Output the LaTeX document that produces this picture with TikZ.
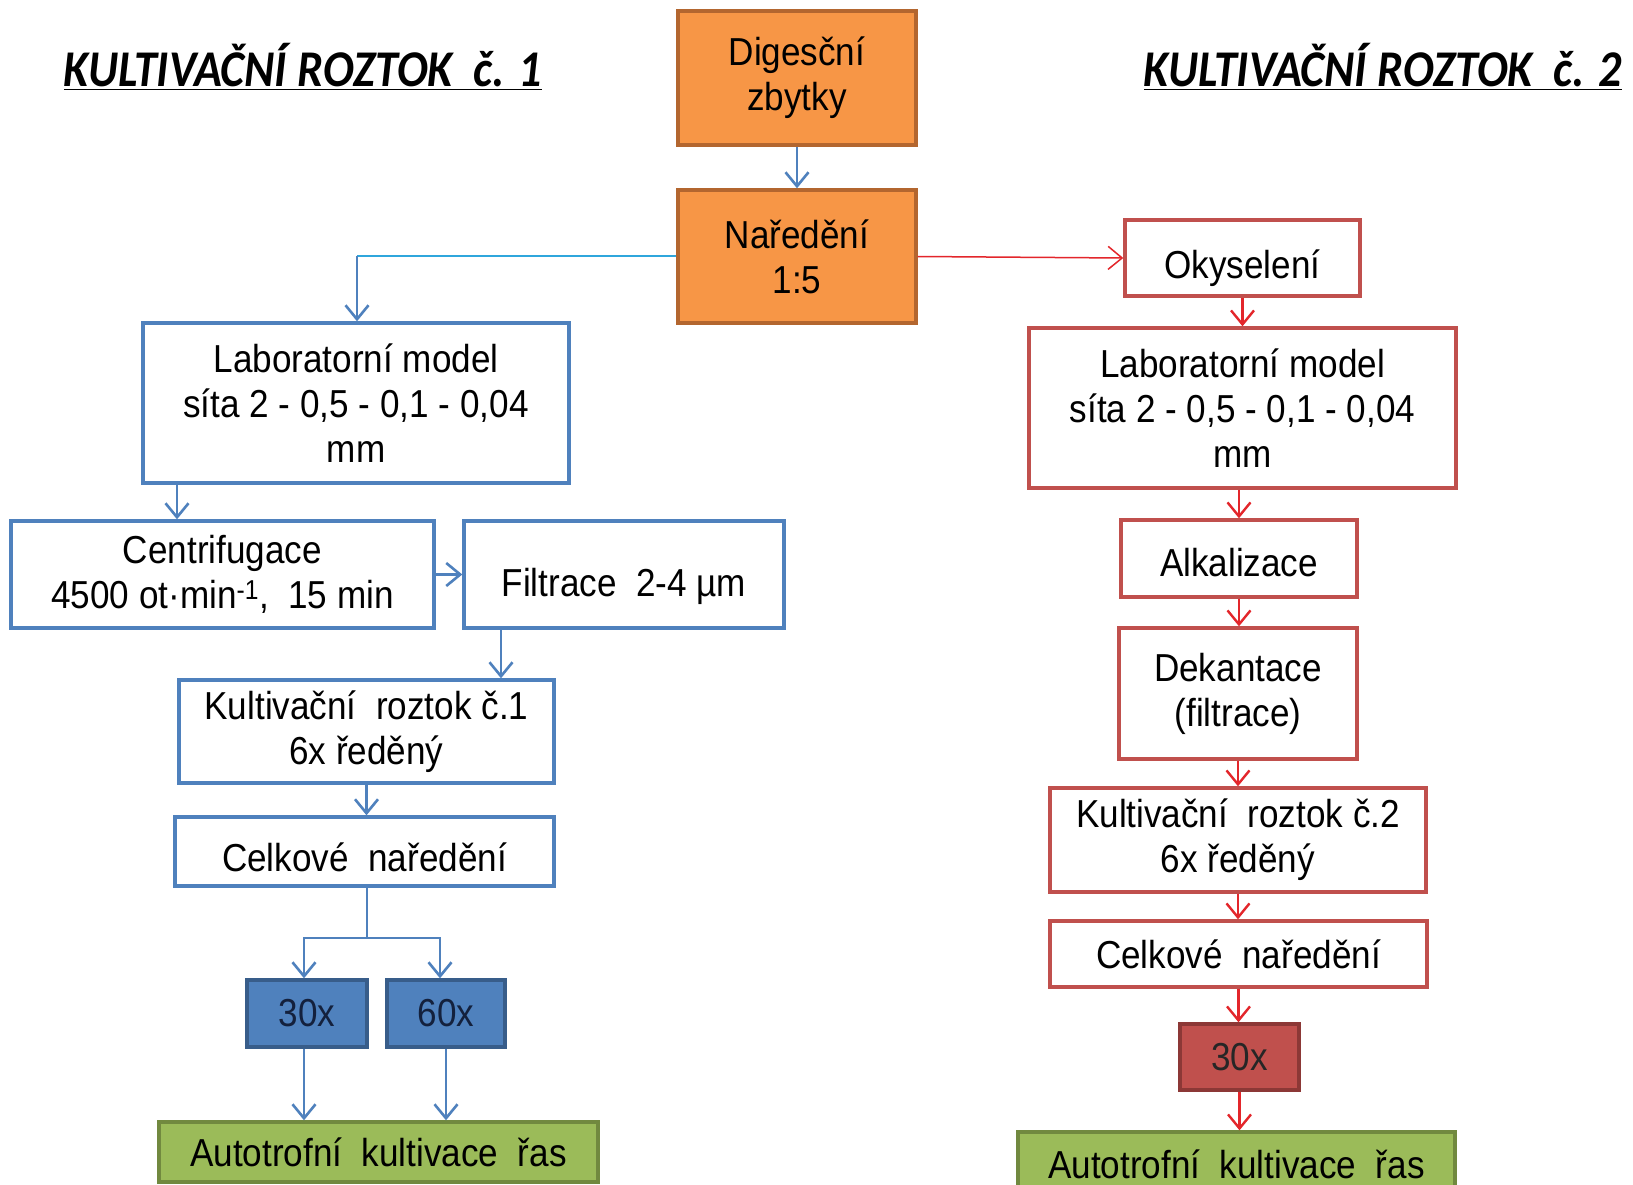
\documentclass[tikz,border=0pt]{standalone}
\usepackage{fontspec}
\setmainfont[FakeStretch=0.9]{Liberation Sans}
\newfontfamily\titlefont{Carlito}
\usetikzlibrary{arrows.meta,calc}
\definecolor{orfill}{HTML}{F79646}
\definecolor{ordraw}{HTML}{B3662F}
\definecolor{bl}{HTML}{4F81BD}
\definecolor{bldark}{HTML}{385D8A}
\definecolor{cyanl}{HTML}{2FA6DC}
\definecolor{rd}{HTML}{C0504D}
\definecolor{rddark}{HTML}{8C3836}
\definecolor{rarrow}{HTML}{E3262B}
\definecolor{grfill}{HTML}{9BBB59}
\definecolor{grdraw}{HTML}{71893F}
\definecolor{navy}{HTML}{14213D}
\tikzset{
  box/.style={rectangle, inner sep=0pt, align=center, line width=3.4pt,
    font=\fontsize{39}{45}\selectfont},
  orbox/.style={box, fill=orfill, draw=ordraw},
  bbox/.style={box, fill=white, draw=bl},
  rbox/.style={box, fill=white, draw=rd},
  bfill/.style={box, fill=bl, draw=bldark, text=navy},
  rfill/.style={box, fill=rd, draw=rddark, text=black!85},
  gbox/.style={box, fill=grfill, draw=grdraw},
  low/.style={text height=#1, text depth=0pt},
  barrow/.style={draw=bl, line width=2.8pt, -{Straight Barb[length=14pt,width=23pt,line width=2.6pt]}},
  rarr/.style={draw=rarrow, line width=2.6pt, -{Straight Barb[length=14pt,width=23pt,line width=2.4pt]}},
  titletext/.style={font=\titlefont\bfseries\itshape\fontsize{46}{50}\selectfont, inner sep=0pt}
}
\newcommand{\bx}[7]{\node[#1, minimum width=#4-#3, minimum height=#6-#5] (#2) at ({(#3+#4)/2},{(#5+#6)/2}) {#7};}
\begin{document}
\begin{tikzpicture}[x=1pt,y=-1pt]
\path[use as bounding box, fill=white] (0,0) rectangle (1633,1185);
% titles
\node[titletext, anchor=base] (t1) at (303,87) {\scalebox{1}[1.12]{\underline{KULTIVAČNÍ ROZTOK\ \ č. 1}}};
\node[titletext, anchor=base] (t2) at (1383,87) {\scalebox{1}[1.12]{\underline{KULTIVAČNÍ ROZTOK\ \ č. 2}}};
% top
\bx{orbox}{dig}{678}{916}{11}{145}{Digesční\\zbytky}
\bx{orbox}{nar}{678}{916}{190}{323}{Naředění\\1:5}
% left column
\bx{bbox}{lab1}{143}{569}{323}{483}{Laboratorní model\\síta 2 - 0,5 - 0,1 - 0,04\\mm}
\bx{bbox}{cent}{11}{434}{521}{628}{Centrifugace\\4500 ot·min\textsuperscript{-1},\ \ 15 min}
\bx{bbox, low=44pt}{filt}{464}{784}{521}{628}{Filtrace\ \ 2-4 µm}
\bx{bbox}{kult1}{179}{554}{680}{783}{Kultivační\ \ roztok č.1\\6x ředěný}
\bx{bbox, low=40pt}{celk1}{175}{554}{817}{886}{Celkové\ \ naředění}
\bx{bfill}{b30}{247}{367}{980}{1047}{30x}
\bx{bfill}{b60}{387}{505}{980}{1047}{60x}
\bx{gbox}{gr1}{159}{598}{1122}{1182}{Autotrofní\ \ kultivace\ \ řas}
% right column
\bx{rbox, low=40pt}{oky}{1125}{1360}{220}{296}{Okyselení}
\bx{rbox}{lab2}{1029}{1456}{328}{488}{Laboratorní model\\síta 2 - 0,5 - 0,1 - 0,04\\mm}
\bx{rbox, low=36pt}{alk}{1121}{1357}{520}{597}{Alkalizace}
\bx{rbox}{dek}{1119}{1357}{628}{759}{Dekantace\\(filtrace)}
\bx{rbox}{kult2}{1050}{1426}{788}{892}{Kultivační\ \ roztok č.2\\6x ředěný}
\bx{rbox}{celk2}{1050}{1427}{921}{987}{Celkové\ \ naředění}
\bx{rfill}{r30}{1180}{1299}{1024}{1090}{30x}
\bx{gbox}{gr2}{1018}{1455}{1132}{1196}{Autotrofní\ \ kultivace\ \ řas}
% connectors top
\draw[barrow] (dig.south) -- (nar.north);
\coordinate (corner) at (357,256);
\draw[cyanl, line width=2.6pt] (nar.west |- corner) -- (corner);
\draw[barrow] (corner) -- (lab1.north -| corner);
\draw[rarrow, line width=1.5pt, -{Straight Barb[length=14pt,width=23pt,line width=1.5pt]}] (nar.east) -- (oky.west);
% left connectors
\draw[barrow] (lab1.south -| 177,0) -- (cent.north -| 177,0);
\draw[barrow] (cent.east) -- (filt.west);
\draw[barrow] (filt.south -| 501,0) -- (kult1.north -| 501,0);
\draw[barrow] (kult1.south) -- (kult1.south |- celk1.north);
\coordinate (split) at (367,938);
\draw[draw=bl, line width=2.8pt] (celk1.south -| split) -- (split);
\draw[barrow] (split) -| (b30.north -| 304,0);
\draw[barrow] (split) -| (b60.north -| 440,0);
\draw[barrow] (b30.south -| 304,0) -- (gr1.north -| 304,0);
\draw[barrow] (b60.south -| 446,0) -- (gr1.north -| 446,0);
% right connectors
\draw[rarr] (oky.south) -- (oky.south |- lab2.north);
\draw[rarr] (lab2.south -| alk.north) -- (alk.north);
\draw[rarr] (alk.south) -- (alk.south |- dek.north);
\draw[rarr] (dek.south) -- (dek.south |- kult2.north);
\draw[rarr] (kult2.south) -- (kult2.south |- celk2.north);
\draw[rarr] (celk2.south) -- (celk2.south |- r30.north);
\draw[rarr] (r30.south) -- (r30.south |- gr2.north);
\end{tikzpicture}
\end{document}
